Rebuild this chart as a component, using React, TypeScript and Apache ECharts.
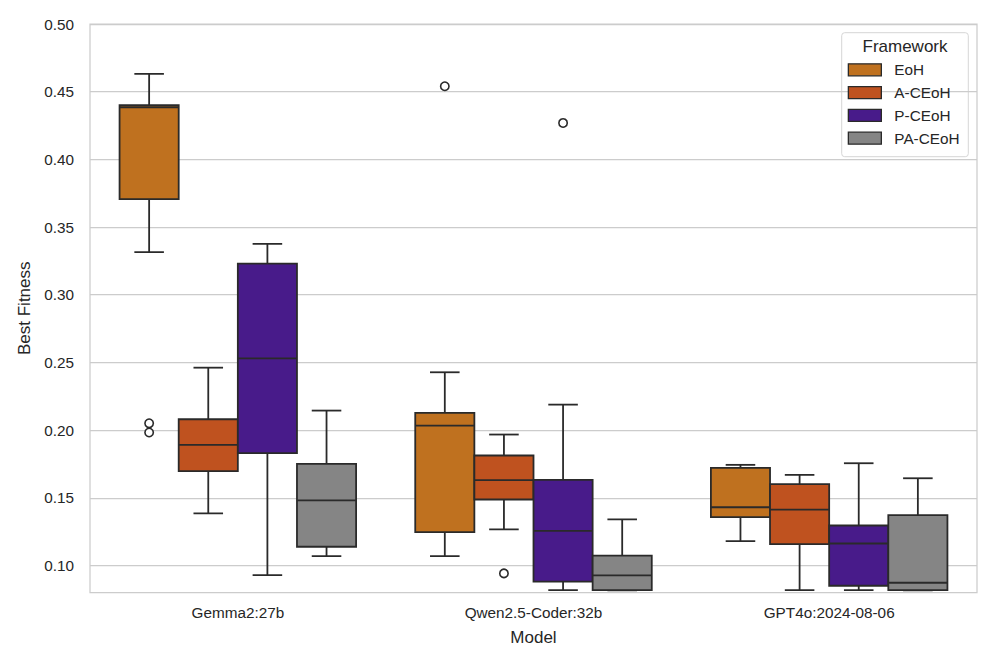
import React, { useEffect, useRef } from "react";
import * as echarts from "echarts";

const models = ["Gemma2:27b", "Qwen2.5-Coder:32b", "GPT4o:2024-08-06"];
const frameworks = ["EoH", "A-CEoH", "P-CEoH", "PA-CEoH"];
const colors = ["#BF711F", "#BF521F", "#481B8A", "#858585"];
const yTicks = [0.1, 0.15, 0.2, 0.25, 0.3, 0.35, 0.4, 0.45, 0.5];

// [min, q1, median, q3, max] per model
const eohStats = [
  [0.3315, 0.3706, 0.4385, 0.44, 0.4631],
  [0.1069, 0.1246, 0.2033, 0.2127, 0.2427],
  [0.1179, 0.1357, 0.143, 0.1721, 0.1743],
];
const aceohStats = [
  [0.1384, 0.1696, 0.1891, 0.208, 0.2461],
  [0.1266, 0.1487, 0.163, 0.1812, 0.1967],
  [0.0817, 0.1157, 0.1413, 0.16, 0.1669],
];
const pceohStats = [
  [0.0929, 0.1829, 0.253, 0.3229, 0.3376],
  [0.0817, 0.088, 0.1256, 0.1632, 0.2188],
  [0.0817, 0.085, 0.1162, 0.1295, 0.1755],
];
const paceohStats = [
  [0.1069, 0.1138, 0.148, 0.1751, 0.2144],
  [0.0815, 0.0817, 0.0926, 0.1072, 0.134],
  [0.0815, 0.0817, 0.0872, 0.1371, 0.1644],
];

// [model index, value]
const eohOutliers = [[0, 0.205], [0, 0.1982], [1, 0.454]];
const aceohOutliers = [[1, 0.0941]];
const pceohOutliers = [[1, 0.4269]];
const paceohOutliers: number[][] = [];

const allStats = [eohStats, aceohStats, pceohStats, paceohStats];
const allOutliers = [eohOutliers, aceohOutliers, pceohOutliers, paceohOutliers];

const LINE = "#2a2a2a";
const FONT = "'Liberation Sans', Arial, Helvetica, sans-serif";
const TEXT = "#262626";

export default function App() {
  const ref = useRef<HTMLDivElement>(null);

  useEffect(() => {
    document.body.style.margin = "0";
    if (!ref.current) return;
    const chart = echarts.init(ref.current, undefined, { renderer: "svg" });

    const boxSeries = frameworks.map((name, hue) => ({
      name,
      type: "custom",
      itemStyle: { color: colors[hue] },
      clip: true,
      z: 3,
      data: allStats[hue].map((s, i) => [i, ...s]),
      renderItem: (params: any, api: any) => {
        const ci = api.value(0);
        const bandW = api.size([1, 0])[0];
        const boxW = (bandW * 0.8) / frameworks.length;
        const cx = api.coord([ci, 0])[0] + (hue - (frameworks.length - 1) / 2) * boxW;
        const yMin = api.coord([ci, api.value(1)])[1];
        const yQ1 = api.coord([ci, api.value(2)])[1];
        const yMed = api.coord([ci, api.value(3)])[1];
        const yQ3 = api.coord([ci, api.value(4)])[1];
        const yMax = api.coord([ci, api.value(5)])[1];
        const ls = { stroke: LINE, lineWidth: 1.8, fill: null };
        const capW = boxW / 4;
        return {
          type: "group",
          children: [
            { type: "line", shape: { x1: cx, y1: yQ3, x2: cx, y2: yMax }, style: ls },
            { type: "line", shape: { x1: cx, y1: yQ1, x2: cx, y2: yMin }, style: ls },
            { type: "line", shape: { x1: cx - capW, y1: yMax, x2: cx + capW, y2: yMax }, style: ls },
            { type: "line", shape: { x1: cx - capW, y1: yMin, x2: cx + capW, y2: yMin }, style: ls },
            {
              type: "rect",
              shape: { x: cx - boxW / 2, y: yQ3, width: boxW, height: yQ1 - yQ3 },
              style: { fill: colors[hue], stroke: LINE, lineWidth: 1.8 },
            },
            { type: "line", shape: { x1: cx - boxW / 2, y1: yMed, x2: cx + boxW / 2, y2: yMed }, style: ls },
          ],
        };
      },
    }));

    const outlierSeries = frameworks.map((name, hue) => ({
      name: name + " outliers",
      type: "custom",
      clip: true,
      z: 4,
      data: allOutliers[hue],
      renderItem: (params: any, api: any) => {
        const ci = api.value(0);
        const bandW = api.size([1, 0])[0];
        const boxW = (bandW * 0.8) / frameworks.length;
        const p = api.coord([ci, api.value(1)]);
        const cx = p[0] + (hue - (frameworks.length - 1) / 2) * boxW;
        return {
          type: "circle",
          shape: { cx, cy: p[1], r: 4.2 },
          style: { fill: "#ffffff", stroke: LINE, lineWidth: 1.6 },
        };
      },
    }));

    chart.setOption({
      animation: false,
      backgroundColor: "#ffffff",
      textStyle: { fontFamily: FONT, color: TEXT },
      grid: {
        left: 90,
        right: 19,
        top: 24,
        bottom: 71.5,
        show: true,
        borderColor: "#cccccc",
        borderWidth: 1.25,
      },
      xAxis: {
        type: "category",
        data: models,
        name: "Model",
        nameLocation: "middle",
        nameGap: 36,
        nameTextStyle: { fontSize: 17, color: TEXT, fontFamily: FONT },
        axisLine: { show: false },
        axisTick: { show: false },
        splitLine: { show: false },
        axisLabel: { fontSize: 15.3, color: TEXT, fontFamily: FONT, margin: 12 },
      },
      yAxis: {
        type: "value",
        min: 0.08,
        max: 0.5,
        name: "Best Fitness",
        nameLocation: "middle",
        nameGap: 53,
        nameTextStyle: { fontSize: 17, color: TEXT, fontFamily: FONT },
        axisLine: { show: false },
        axisTick: { show: false, customValues: yTicks },
        axisLabel: {
          customValues: yTicks,
          fontSize: 15.3,
          color: TEXT,
          fontFamily: FONT,
          margin: 16,
          formatter: (v: number) => v.toFixed(2),
        },
        splitLine: { show: true, lineStyle: { color: "#cccccc", width: 1.25 } },
      },
      legend: {
        data: frameworks,
        orient: "vertical",
        left: 847.7,
        top: 62.3,
        padding: 0,
        itemGap: 7.8,
        itemWidth: 33,
        itemHeight: 12,
        icon: "rect",
        itemStyle: { borderColor: LINE, borderWidth: 1.3 },
        textStyle: { fontSize: 15.3, color: TEXT, fontFamily: FONT, padding: [0, 0, 0, 8] },
        selectedMode: false,
      },
      graphic: [
        {
          type: "rect",
          z: 0,
          shape: { x: 841.7, y: 32.7, width: 126.6, height: 124, r: 3 },
          style: { fill: "rgba(255,255,255,0.8)", stroke: "#d6d6d6", lineWidth: 1 },
        },
        {
          type: "text",
          z: 1,
          x: 905,
          y: 46,
          style: {
            text: "Framework",
            fontSize: 17,
            fontFamily: FONT,
            fill: TEXT,
            align: "center",
            verticalAlign: "middle",
          },
        },
      ],
      series: [...boxSeries, ...outlierSeries],
    });

    return () => chart.dispose();
  }, []);

  return <div ref={ref} style={{ width: 996, height: 664 }} />;
}
